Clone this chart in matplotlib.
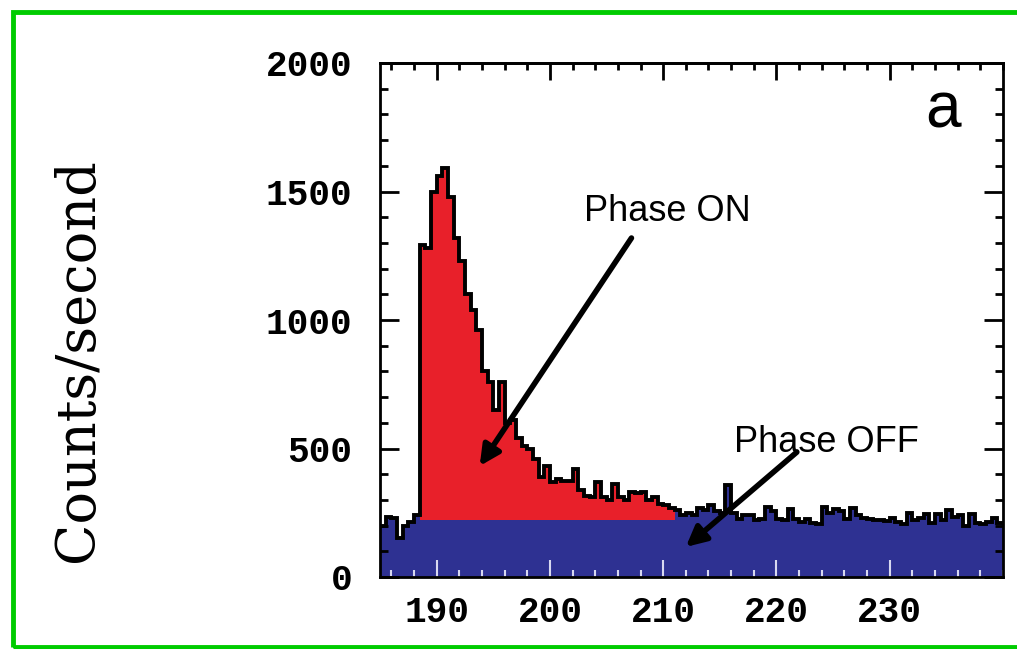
import numpy as np
import matplotlib.pyplot as plt
from matplotlib.patches import Rectangle
from matplotlib.ticker import MultipleLocator

# histogram: 0.5 wide bins from 185 to 240
bin_start = 185.0
bin_width = 0.5
counts_pre = [200, 235, 230, 150, 200, 215, 240]
counts_peak = [1290, 1280, 1500, 1560, 1590, 1480, 1320, 1230, 1100, 1040,
               960, 800, 760, 650, 760, 600, 610, 540, 510, 500,
               460, 390, 430, 370, 380, 375, 375, 420, 340, 315,
               310, 370, 310, 300, 360, 310, 300, 330, 325, 330,
               300, 310, 285, 280, 270, 260, 240, 250, 240]
counts_tail = [270, 262, 280, 255, 250, 358, 250, 225, 240, 240,
               222, 225, 272, 255, 225, 222, 265, 225, 215, 225,
               210, 205, 272, 250, 265, 255, 225, 270, 240, 230,
               225, 222, 220, 218, 230, 215, 205, 250, 222, 230,
               245, 210, 245, 222, 261, 235, 240, 200, 245, 210,
               205, 215, 230, 210]
background = 220
on_start, on_end = 188.5, 211.0

counts = np.array(counts_pre + counts_peak + counts_tail, dtype=float)
edges = bin_start + bin_width * np.arange(len(counts) + 1)
on = (edges[:-1] >= on_start) & (edges[:-1] < on_end)

yticks = [0, 500, 1000, 1500, 2000]
xticks = [190, 200, 210, 220, 230]

RED = '#e8202a'
BLUE = '#2e3192'

fig = plt.figure(figsize=(10.17, 6.49), dpi=100)
W, H = 1017, 649
ax = fig.add_axes([380 / W, 1 - 577 / H, (1003 - 380) / W, (577 - 63) / H])

blue_top = np.where(on, background, counts)
red_top = np.where(on, counts, background)
ax.stairs(blue_top, edges, baseline=0, fill=True, color=BLUE, zorder=1)
ax.stairs(red_top, edges, baseline=background, fill=True, color=RED, zorder=1)
ax.stairs(counts, edges, baseline=None, color='black', lw=2.8, zorder=2)

ax.set_xlim(185, 240)
ax.set_ylim(0, 2000)

lab_font = dict(family='Liberation Mono', weight='bold', size=26)
ax.set_yticks(yticks)
ax.set_yticklabels([str(v) for v in yticks], **lab_font)
ax.set_xticks(xticks)
ax.set_xticklabels([str(v) for v in xticks], **lab_font)
ax.xaxis.set_minor_locator(MultipleLocator(2))
ax.yaxis.set_minor_locator(MultipleLocator(100))

ax.tick_params(axis='y', which='both', direction='in', left=True, right=True,
               color='black', width=2)
ax.tick_params(axis='y', which='major', length=14, pad=20)
ax.tick_params(axis='y', which='minor', length=6)
# bottom ticks sit on the blue fill, so draw them light
ax.tick_params(axis='x', which='both', direction='in', bottom=True, top=False,
               color='#d8d8f0', width=1.5)
ax.tick_params(axis='x', which='major', length=12, pad=13)
ax.tick_params(axis='x', which='minor', length=5)

top = ax.secondary_xaxis('top')
top.set_xticks(xticks)
top.xaxis.set_minor_locator(MultipleLocator(2))
top.tick_params(which='both', direction='in', color='black', width=2,
                labeltop=False)
top.tick_params(which='major', length=12)
top.tick_params(which='minor', length=5)
top.spines['top'].set_linewidth(2)

for s in ax.spines.values():
    s.set_linewidth(2)
    s.set_zorder(3)

fig.text(78 / W, 1 - 360 / H, 'Counts/second', rotation=90, ha='center',
         va='center', family='DejaVu Serif', fontsize=39)

txt = dict(family='Liberation Sans', fontsize=26, ha='center', va='center')
ax.text(210.4, 1424, 'Phase ON', **txt)
ax.text(224.4, 525, 'Phase OFF', **txt)
ax.text(234.7, 1817, 'a', family='Liberation Sans', fontsize=46,
        ha='center', va='center')

arrow = dict(arrowstyle='-|>', lw=4, color='black', mutation_scale=30,
             shrinkA=0, shrinkB=0)
ax.annotate('', xy=(193.8, 432), xytext=(207.2, 1319), arrowprops=arrow)
ax.annotate('', xy=(212.0, 117), xytext=(221.8, 486), arrowprops=arrow)

fig.patches.append(Rectangle((12.5 / W, 2.5 / H), 1.05, (634.5 / H),
                             transform=fig.transFigure, fill=False,
                             ec='#00cc00', lw=3.5))

fig.savefig('out.png', dpi=100)
